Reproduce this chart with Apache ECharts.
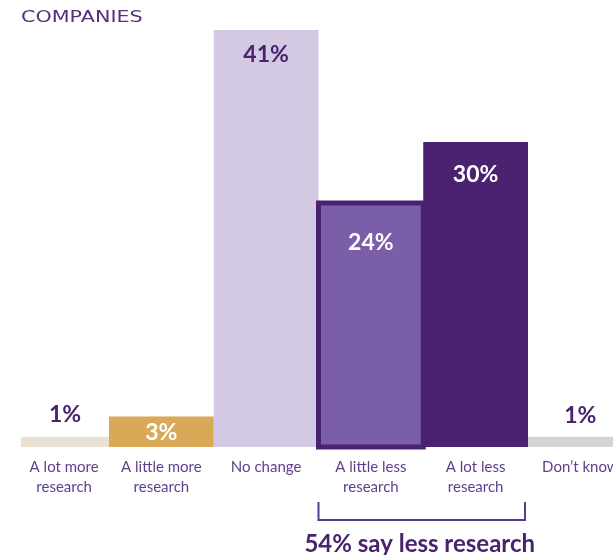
<!DOCTYPE html>
<html>
<head>
<meta charset="utf-8">
<script src="https://cdn.jsdelivr.net/npm/echarts@6/dist/echarts.min.js"></script>
<style>
  html, body { margin: 0; padding: 0; background: #fff; }
  #chart { width: 613px; height: 555px; }
</style>
</head>
<body>
<div id="chart"></div>
<script>
// Survey answers: how companies expect their research volume to change
const categories = ['A lot more\nresearch', 'A little more\nresearch', 'No change', 'A little less\nresearch', 'A lot less\nresearch', 'Don\u2019t know'];
const shares = [1, 3, 41, 24, 30, 1];
const titleText = 'COMPANIES';
const summaryText = '54% say less research';

const DARK = '#4a2270';
const LABEL = '#5e3f8e';

// Per-bar look: fill, optional outline, label colour / placement
const barLook = [
  { fill: '#e9e1d1', labelFill: DARK, pos: 'top', dist: 11 },
  { fill: '#d9a957', labelFill: '#ffffff', pos: 'insideTop', dist: 5 },
  { fill: '#d3c9e3', labelFill: DARK, pos: 'insideTop', dist: 13 },
  { fill: '#7b5ea8', stroke: DARK, lineWidth: 5, labelFill: '#ffffff', pos: 'insideTop', dist: 31 },
  { fill: DARK, labelFill: '#ffffff', pos: 'insideTop', dist: 21 },
  { fill: '#d4d4d4', labelFill: DARK, pos: 'top', dist: 10 }
];

const chart = echarts.init(document.getElementById('chart'));

chart.setOption({
  animation: false,
  grid: { left: 4.25, width: 628.5, top: 30, bottom: 108, outerBoundsMode: 'none', containLabel: false },
  xAxis: {
    type: 'category',
    data: categories.map((c, i) => i === 0
      ? { value: c, textStyle: { padding: [0, 0, 0, 15] } }
      : c),
    axisLine: { show: false },
    axisTick: { show: false },
    axisLabel: {
      interval: 0,
      margin: 10,
      color: LABEL,
      fontFamily: 'Lato',
      fontSize: 15,
      lineHeight: 20
    }
  },
  yAxis: { type: 'value', min: 0, max: 41, show: false, splitLine: { show: false } },
  series: [{
    type: 'custom',
    data: shares.map((v, i) => [i, v]),
    renderItem(params, api) {
      const i = api.value(0);
      const v = api.value(1);
      const top = api.coord([i, v]);
      const base = api.coord([i, 0]);
      const band = api.size([1, 0])[0];
      let x0 = top[0] - band / 2;
      const x1 = top[0] + band / 2;
      if (i === 0) x0 = x1 - band * 0.84;
      const look = barLook[i];
      const style = { fill: look.fill };
      if (look.stroke) { style.stroke = look.stroke; style.lineWidth = look.lineWidth; }
      return {
        type: 'rect',
        z2: look.stroke ? 10 : 1,
        shape: { x: x0, y: top[1], width: x1 - x0, height: base[1] - top[1] },
        style: style,
        textContent: {
          style: {
            text: v + '%',
            fill: look.labelFill,
            fontFamily: 'Lato',
            fontWeight: 'bold',
            fontSize: 23
          }
        },
        textConfig: { position: look.pos, distance: look.dist }
      };
    }
  }]
});

// Title and the bracket grouping the two "less research" answers
const band = chart.convertToPixel({ xAxisIndex: 0 }, 1) - chart.convertToPixel({ xAxisIndex: 0 }, 0);
const bx0 = chart.convertToPixel({ xAxisIndex: 0 }, 3) - band / 2;
const bx1 = chart.convertToPixel({ xAxisIndex: 0 }, 4) + band / 2 - 3;
const by0 = 502, by1 = 520;

chart.setOption({
  graphic: [
    {
      type: 'text', left: 21, top: 11, scaleX: 1.38,
      style: { text: titleText, fill: '#56307f', font: '15px "DejaVu Sans"' }
    },
    {
      type: 'polyline',
      shape: { points: [[bx0, by0], [bx0, by1], [bx1, by1], [bx1, by0]] },
      style: { stroke: '#5a3a8c', lineWidth: 2, fill: null }
    },
    {
      type: 'text', x: (bx0 + bx1) / 2 - 2, y: 544,
      style: {
        text: summaryText, fill: DARK, align: 'center', verticalAlign: 'middle',
        font: 'bold 24px Lato'
      }
    }
  ]
});
</script>
</body>
</html>
